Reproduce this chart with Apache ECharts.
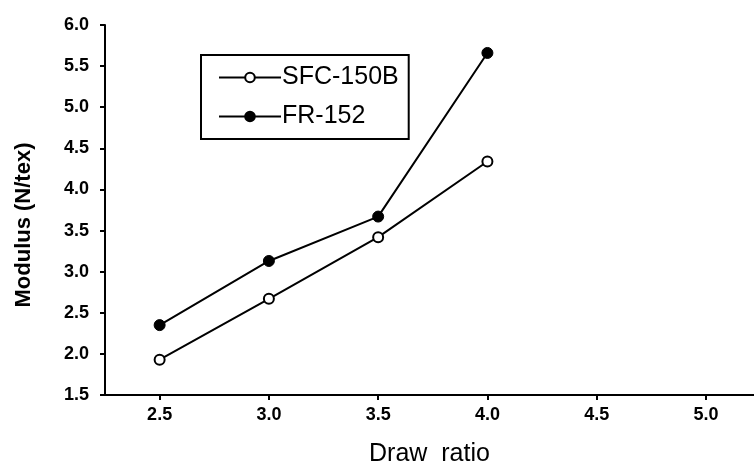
<!DOCTYPE html>
<html>
<head>
<meta charset="utf-8">
<script src="https://cdn.jsdelivr.net/npm/echarts@6/dist/echarts.min.js"></script>
<style>html,body{margin:0;padding:0;background:#fff}#c{width:754px;height:472px}</style>
</head>
<body>
<div id="c"></div>
<script>
const drawRatio = [2.5, 3.0, 3.5, 4.0];
const sfc150b = [1.93, 2.67, 3.42, 4.34];
const fr152 = [2.35, 3.13, 3.67, 5.66];
const xTicks = [2.5, 3.0, 3.5, 4.0, 4.5, 5.0];
const seriesNames = ['SFC-150B', 'FR-152'];

const font = '"Liberation Sans", Arial, sans-serif';
const chart = echarts.init(document.getElementById('c'), null, {renderer: 'canvas'});
chart.setOption({
  animation: false,
  backgroundColor: '#fff',
  grid: {left: 105, right: 0, top: 25, bottom: 72, containLabel: false},
  legend: {
    orient: 'vertical',
    left: 201, top: 55,
    padding: [10, 10, 10, 17],
    itemGap: 14,
    itemWidth: 62, itemHeight: 12,
    borderColor: '#000', borderWidth: 2,
    data: seriesNames,
    textStyle: {fontFamily: font, fontSize: 25, color: '#000', padding: [0, 0, 0, -4]}
  },
  xAxis: {
    type: 'value', min: 2.25, max: 5.22,
    name: 'Draw  ratio', nameLocation: 'middle', nameGap: 47,
    nameTextStyle: {fontFamily: font, fontSize: 25, color: '#000'},
    axisLine: {lineStyle: {color: '#000', width: 2}},
    axisTick: {show: true, length: 5, lineStyle: {color: '#000', width: 2}, customValues: xTicks},
    axisLabel: {customValues: xTicks, margin: 11, fontFamily: font, fontSize: 18, fontWeight: 'bold', color: '#000',
      formatter: v => v.toFixed(1)},
    splitLine: {show: false}
  },
  yAxis: {
    type: 'value', min: 1.5, max: 6.0, interval: 0.5,
    name: 'Modulus (N/tex)', nameLocation: 'middle', nameGap: 70,
    nameTextStyle: {fontFamily: font, fontSize: 22, fontWeight: 'bold', color: '#000', padding: [0, 30, 0, 0]},
    axisLine: {show: true, lineStyle: {color: '#000', width: 2}},
    axisTick: {show: true, length: 5, lineStyle: {color: '#000', width: 2}},
    axisLabel: {margin: 16, fontFamily: font, fontSize: 18, fontWeight: 'bold', color: '#000',
      formatter: v => v.toFixed(1)},
    splitLine: {show: false}
  },
  series: [
    {
      name: seriesNames[0], type: 'line',
      data: drawRatio.map((x, i) => [x, sfc150b[i]]),
      symbol: 'circle', symbolSize: 10,
      lineStyle: {color: '#000', width: 2},
      itemStyle: {color: '#fff', borderColor: '#000', borderWidth: 2}
    },
    {
      name: seriesNames[1], type: 'line',
      data: drawRatio.map((x, i) => [x, fr152[i]]),
      symbol: 'circle', symbolSize: 11,
      lineStyle: {color: '#000', width: 2},
      itemStyle: {color: '#000', borderColor: '#000', borderWidth: 1}
    }
  ]
});
</script>
</body>
</html>
